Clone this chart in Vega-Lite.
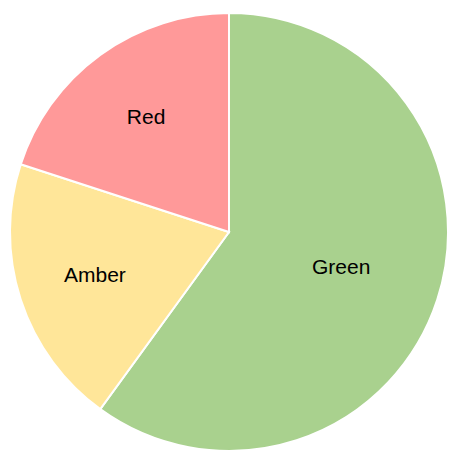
{
  "$schema": "https://vega.github.io/schema/vega-lite/v6.json",
  "width": 438,
  "height": 438,
  "autosize": {"type": "none"},
  "padding": {"left": 10, "top": 13, "right": 2, "bottom": 0},
  "background": "white",
  "data": {"values": [
    {"category": "Green", "value": 60, "idx": 1},
    {"category": "Amber", "value": 20, "idx": 2},
    {"category": "Red", "value": 20, "idx": 3}
  ]},
  "encoding": {
    "theta": {"field": "value", "type": "quantitative", "stack": true},
    "order": {"field": "idx", "type": "quantitative"}
  },
  "layer": [
    {
      "mark": {"type": "arc", "outerRadius": 219, "stroke": "white", "strokeWidth": 2},
      "encoding": {
        "color": {
          "field": "category", "type": "nominal",
          "scale": {"domain": ["Green", "Amber", "Red"], "range": ["#a9d18e", "#ffe699", "#ff9999"]},
          "legend": null
        }
      }
    },
    {
      "mark": {"type": "text", "radius": 118, "font": "Liberation Sans", "fontSize": 21, "fill": "black", "baseline": "middle", "align": "center"},
      "encoding": {
        "text": {"condition": {"test": "datum.category === 'Green'", "field": "category"}, "value": ""}
      }
    },
    {
      "mark": {"type": "text", "radius": 141, "font": "Liberation Sans", "fontSize": 21, "fill": "black", "baseline": "middle", "align": "center"},
      "encoding": {
        "text": {"condition": {"test": "datum.category !== 'Green'", "field": "category"}, "value": ""}
      }
    }
  ]
}
